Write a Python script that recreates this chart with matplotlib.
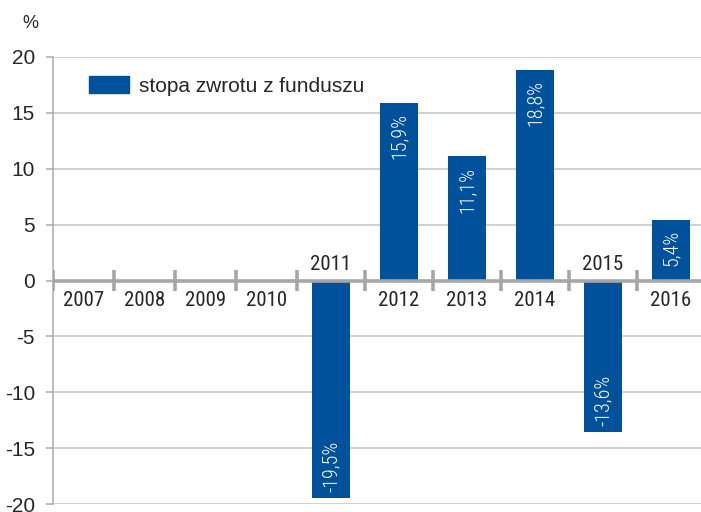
import numpy as np
import matplotlib.pyplot as plt
from matplotlib.patches import Patch

years = ['2007', '2008', '2009', '2010', '2011', '2012', '2013', '2014', '2015', '2016']
returns = [np.nan, np.nan, np.nan, np.nan, -19.5, 15.9, 11.1, 18.8, -13.6, 5.4]
value_labels = ['', '', '', '', '-19,5%', '15,9%', '11,1%', '18,8%', '-13,6%', '5,4%']
yticks = [-20, -15, -10, -5, 0, 5, 10, 15, 20]
series_name = 'stopa zwrotu z funduszu'

blue = '#00519C'
grey = '#A6A6A6'
text_c = '#262626'
narrow = ['Roboto Condensed', 'Liberation Sans', 'DejaVu Sans']

plt.rcParams['font.family'] = ['Liberation Sans', 'DejaVu Sans']
plt.rcParams['axes.unicode_minus'] = False

# category slots are a bit narrower for the empty years
slot_w = np.array([61.0] * 4 + [68.0] * 6)
edges = np.concatenate([[0], np.cumsum(slot_w)])
centers = edges[:-1] + slot_w / 2

fig = plt.figure(figsize=(7.01, 5.12), dpi=100)
ax = fig.add_axes([53 / 701, 8 / 512, 648 / 701, 447 / 512])

ax.bar(centers, returns, width=38, color=blue, zorder=3)

ax.set_xlim(0, 648)
ax.set_ylim(-20, 20)
ax.set_yticks(yticks)
ax.set_xticks([])
for y in yticks:
    if y != 0:
        ax.axhline(y, color='#C8C8C8', lw=1.2, zorder=1)
ax.axhline(0, color=grey, lw=2.6, zorder=4)
ax.vlines(edges[:-1], -0.9, 0.9, color=grey, lw=2.6, zorder=4)

for s in ['top', 'right', 'bottom']:
    ax.spines[s].set_visible(False)
ax.spines['left'].set_color('#B0B0B0')
ax.spines['left'].set_linewidth(1.2)
ax.tick_params(axis='y', length=5, width=1.2, color='#B0B0B0',
               labelsize=15, labelcolor=text_c, pad=8)

for x, v, lab, yr in zip(centers, returns, value_labels, years):
    if not np.isnan(v) and v < 0:
        ax.text(x, 1.4, yr, ha='center', va='center', fontsize=15,
                family=narrow, color=text_c, zorder=5)
        ax.text(x, v + 0.55, lab, ha='center', va='bottom', rotation=90,
                fontsize=14.5, family=narrow, weight='light', color='white', zorder=5)
    else:
        ax.text(x, -1.75, yr, ha='center', va='center', fontsize=15,
                family=narrow, color=text_c, zorder=5)
        if not np.isnan(v):
            ax.text(x, v - 0.9, lab, ha='center', va='top', rotation=90,
                    fontsize=14.5, family=narrow, weight='light', color='white', zorder=5)

fig.text(30 / 701, 1 - 24 / 512, '%', ha='center', va='center',
         fontsize=13, color=text_c)

ax.legend(handles=[Patch(color=blue, label=series_name)], loc='center left',
          bbox_to_anchor=(36 / 648, (504 - 86) / 447), frameon=False,
          fontsize=15, handlelength=1.9, handleheight=0.85,
          handletextpad=0.5, borderpad=0, borderaxespad=0,
          labelcolor=text_c)

fig.savefig('out.png', dpi=100)
